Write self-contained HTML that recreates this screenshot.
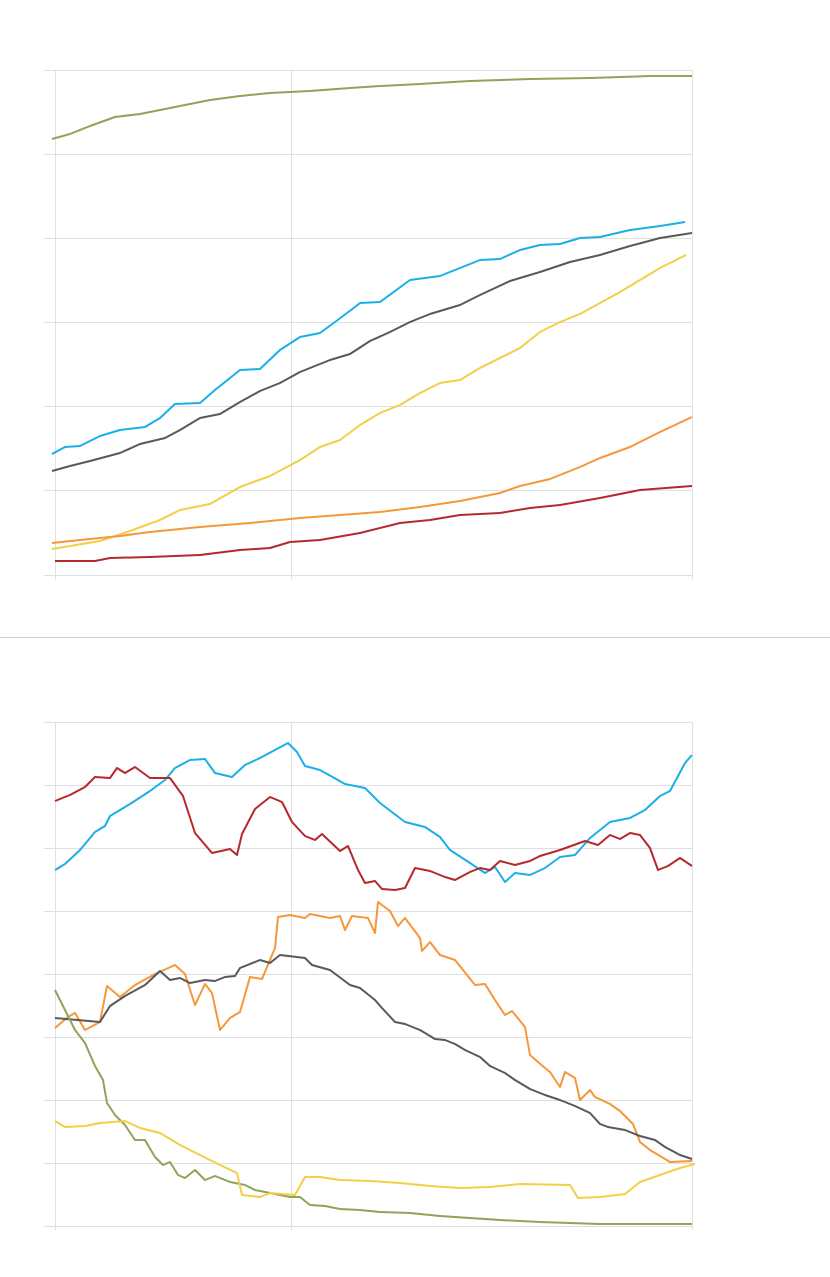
<!DOCTYPE html>
<html><head><meta charset="utf-8"><style>html,body{margin:0;padding:0;background:#fff}svg{display:block}</style></head>
<body>
<svg width="830" height="1277" viewBox="0 0 830 1277" xmlns="http://www.w3.org/2000/svg">
<g stroke="#e0e0e0" stroke-width="1" fill="none">
<line x1="44" y1="70.5" x2="692" y2="70.5"/><line x1="44" y1="154.5" x2="692" y2="154.5"/><line x1="44" y1="238.5" x2="692" y2="238.5"/><line x1="44" y1="322.5" x2="692" y2="322.5"/><line x1="44" y1="406.5" x2="692" y2="406.5"/><line x1="44" y1="490.5" x2="692" y2="490.5"/><line x1="44" y1="575.5" x2="692" y2="575.5"/>
<line x1="55.5" y1="70" x2="55.5" y2="580"/><line x1="291.5" y1="70" x2="291.5" y2="580"/><line x1="692.5" y1="70" x2="692.5" y2="580"/>
<line x1="44" y1="722.5" x2="692" y2="722.5"/><line x1="44" y1="785.5" x2="692" y2="785.5"/><line x1="44" y1="848.5" x2="692" y2="848.5"/><line x1="44" y1="911.5" x2="692" y2="911.5"/><line x1="44" y1="974.5" x2="692" y2="974.5"/><line x1="44" y1="1037.5" x2="692" y2="1037.5"/><line x1="44" y1="1100.5" x2="692" y2="1100.5"/><line x1="44" y1="1163.5" x2="692" y2="1163.5"/><line x1="44" y1="1226.5" x2="692" y2="1226.5"/>
<line x1="55.5" y1="722" x2="55.5" y2="1230"/><line x1="291.5" y1="722" x2="291.5" y2="1230"/><line x1="692.5" y1="722" x2="692.5" y2="1230"/>
</g>
<line x1="0" y1="637.5" x2="830" y2="637.5" stroke="#cccccc" stroke-width="1"/>
<g fill="none" stroke-width="2" stroke-linejoin="round">
<polyline stroke="#8da45a" points="52,139 70,134 90,126 115,117 140,114 160,110 185,105 210,100 240,96 270,93 310,91 350,88 380,86 420,84 470,81 530,79 590,78 650,76 692,76"/>
<polyline stroke="#1aafe6" points="52,454 65,447 80,446 100,436 120,430 145,427 160,418 175,404 200,403 215,390 240,370 260,369 280,350 300,337 320,333 335,322 355,307 360,303 380,302 410,280 440,276 460,268 480,260 500,259 520,250 540,245 560,244 580,238 600,237 630,230 660,226 685,222"/>
<polyline stroke="#595959" points="52,471 70,466 90,461 120,453 140,444 165,438 180,430 200,418 220,414 240,402 260,391 280,383 300,372 330,360 350,354 370,341 390,332 410,322 430,314 460,305 480,295 510,281 540,272 570,262 600,255 630,246 660,238 692,233"/>
<polyline stroke="#f2cf47" points="52,549 70,546 100,541 130,531 160,520 180,510 210,504 240,487 270,476 300,460 320,447 340,440 360,425 380,413 400,405 420,393 440,383 460,380 480,368 500,358 520,348 540,332 560,322 580,314 600,303 620,292 640,280 660,268 680,258 686,255"/>
<polyline stroke="#f5973b" points="52,543 80,540 120,536 150,532 200,527 250,523 300,518 340,515 380,512 420,507 460,501 500,493 520,486 550,479 580,467 600,458 630,447 660,432 692,417"/>
<polyline stroke="#b5282e" points="55,561 95,561 110,558 150,557 200,555 240,550 270,548 290,542 320,540 360,533 400,523 430,520 460,515 500,513 530,508 560,505 600,498 640,490 692,486"/>

<polyline stroke="#1aafe6" points="55,870 65,864 80,850 95,832 105,826 110,816 130,804 150,791 165,780 175,768 190,760 205,759 215,773 232,777 245,765 260,758 288,743 297,752 305,766 320,770 345,784 365,788 380,803 405,822 425,827 440,837 450,850 470,863 485,873 495,867 505,882 515,873 530,875 545,868 560,857 575,855 590,838 610,822 630,818 645,810 660,796 670,791 685,763 692,755"/>
<polyline stroke="#b5282e" points="55,801 70,795 85,787 95,777 110,778 117,768 125,773 135,767 150,778 170,778 183,796 195,833 212,853 230,849 237,855 242,834 255,809 270,797 282,802 292,822 305,836 315,840 322,834 340,851 348,846 358,870 365,883 375,881 382,889 395,890 405,888 415,868 430,871 445,877 455,880 470,872 480,868 490,870 500,861 515,865 530,861 540,856 560,850 585,841 598,845 610,835 620,839 630,833 640,835 650,848 658,870 668,866 680,858 692,866"/>
<polyline stroke="#f5973b" points="55,1028 68,1017 75,1013 85,1030 100,1022 107,986 120,997 135,985 155,974 175,965 185,974 195,1005 205,984 212,993 220,1030 230,1018 240,1012 250,977 262,979 275,948 278,917 290,915 305,918 310,914 330,918 340,916 345,930 352,916 368,918 375,933 378,902 390,911 398,926 405,918 420,938 422,951 430,942 440,955 455,960 475,985 485,984 495,1000 505,1015 512,1011 525,1027 530,1055 545,1068 550,1072 560,1087 565,1072 575,1078 580,1100 590,1090 595,1097 610,1104 620,1111 633,1124 640,1142 650,1150 660,1156 670,1162 692,1161"/>
<polyline stroke="#595959" points="55,1018 100,1022 110,1006 125,996 145,985 160,971 170,980 180,978 190,983 205,980 215,981 225,977 235,976 240,968 260,960 270,963 280,955 305,958 312,965 330,970 350,985 360,988 375,1000 382,1008 395,1022 405,1024 420,1030 435,1039 445,1040 455,1044 465,1050 480,1057 490,1066 505,1073 515,1080 530,1089 545,1095 560,1100 575,1106 590,1113 600,1124 608,1127 625,1130 640,1136 655,1140 665,1147 680,1155 692,1159"/>
<polyline stroke="#8da45a" points="55,990 65,1010 75,1030 85,1043 95,1066 103,1080 107,1103 115,1115 125,1125 135,1140 145,1140 155,1157 163,1165 170,1162 178,1175 185,1178 195,1170 205,1180 215,1176 230,1182 245,1185 255,1190 270,1193 290,1197 300,1197 310,1205 325,1206 340,1209 360,1210 380,1212 410,1213 440,1216 470,1218 500,1220 540,1222 600,1224 692,1224"/>
<polyline stroke="#f2cf47" points="55,1121 65,1127 85,1126 100,1123 125,1121 140,1128 160,1133 180,1145 200,1155 220,1165 237,1173 242,1195 260,1197 270,1193 295,1195 305,1177 320,1177 340,1180 370,1181 400,1183 430,1186 460,1188 490,1187 520,1184 570,1185 578,1198 600,1197 625,1194 640,1182 660,1175 680,1168 695,1164"/>
</g>
</svg>
</body></html>
